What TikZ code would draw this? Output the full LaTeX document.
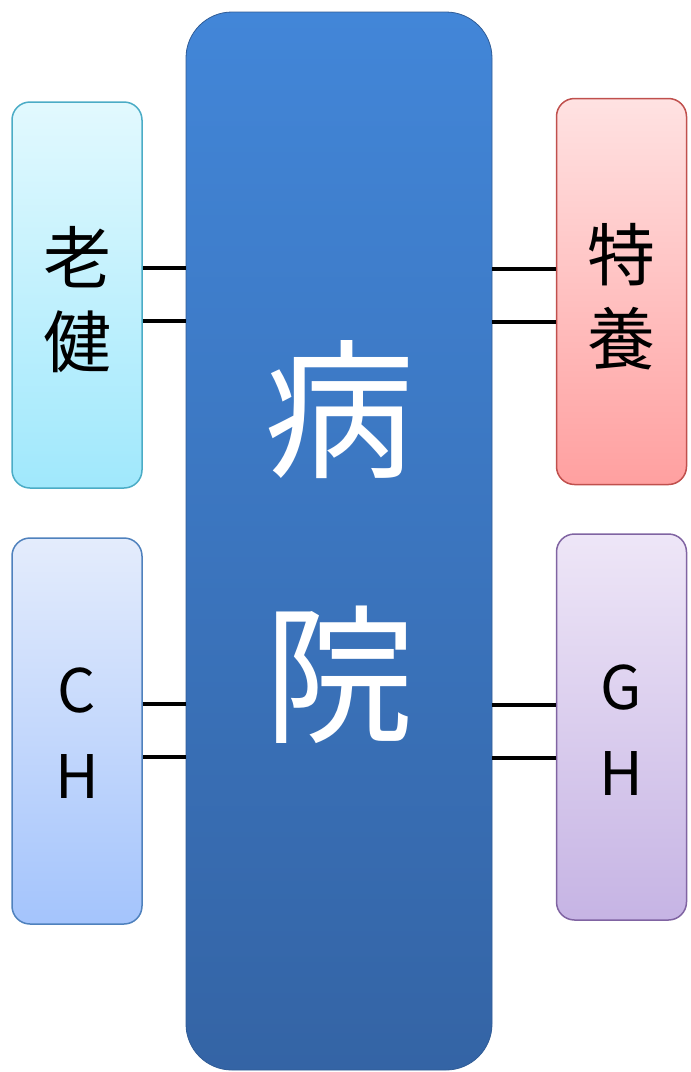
\documentclass[tikz,border=0pt]{standalone}
\usepackage{fontspec}
\newfontfamily\cjk{Noto Sans CJK JP}
\begin{document}
\begin{tikzpicture}[x=1pt,y=-1pt,
  sidebox/.style={rounded corners=18pt, line width=1.5pt, minimum width=130pt, minimum height=386pt, inner sep=0pt, draw, shading=axis, shading angle=0},
  label/.style={font=\cjk\fontsize{68}{84}\selectfont, align=center},
  link/.style={line width=3.5pt, black}]
\useasboundingbox (0,0) rectangle (691,1072);
% main box
\node[rounded corners=46pt, minimum width=306pt, minimum height=1058pt, inner sep=0pt,
  shading=axis, top color={rgb,255:red,66;green,134;blue,216}, bottom color={rgb,255:red,52;green,100;blue,165},
  draw={rgb,255:red,48;green,92;blue,150}, line width=0.8pt] (hosp) at (339,541) {};
\node[font=\cjk\fontsize{150}{150}\selectfont, text=white] (t1) at (339,410) {病};
\node[font=\cjk\fontsize{150}{150}\selectfont, text=white] (t2) at (339,675) {院};
% side boxes
\node[sidebox, draw={rgb,255:red,75;green,172;blue,198}, top color={rgb,255:red,226;green,249;blue,254}, bottom color={rgb,255:red,160;green,232;blue,252}] (rk) at (77,295) {};
\node[sidebox, draw={rgb,255:red,79;green,129;blue,189}, top color={rgb,255:red,228;green,236;blue,252}, bottom color={rgb,255:red,164;green,196;blue,252}] (ch) at (77,731) {};
\node[sidebox, draw={rgb,255:red,192;green,80;blue,77}, top color={rgb,255:red,255;green,226;blue,226}, bottom color={rgb,255:red,255;green,160;blue,160}] (ty) at (621.5,291.5) {};
\node[sidebox, draw={rgb,255:red,128;green,100;blue,162}, top color={rgb,255:red,238;green,230;blue,247}, bottom color={rgb,255:red,198;green,180;blue,228}] (gh) at (621.5,727) {};
% labels
\node[label] (l1) at (77,300) {老\\健};
\node[label] (l2) at (621.5,297) {特\\養};
\node[label, font=\cjk\fontsize{60}{86}\selectfont] (l3) at (77,733) {C\\H};
\node[label, font=\cjk\fontsize{60}{86}\selectfont] (l4) at (621.5,730) {G\\H};
% connectors
\draw[link] (rk.east |- 0,268) -- (hosp.west |- 0,268);
\draw[link] (rk.east |- 0,321) -- (hosp.west |- 0,321);
\draw[link] (ch.east |- 0,704) -- (hosp.west |- 0,704);
\draw[link] (ch.east |- 0,757) -- (hosp.west |- 0,757);
\draw[link] (hosp.east |- 0,269) -- (ty.west |- 0,269);
\draw[link] (hosp.east |- 0,322) -- (ty.west |- 0,322);
\draw[link] (hosp.east |- 0,705) -- (gh.west |- 0,705);
\draw[link] (hosp.east |- 0,758) -- (gh.west |- 0,758);
\end{tikzpicture}
\end{document}
